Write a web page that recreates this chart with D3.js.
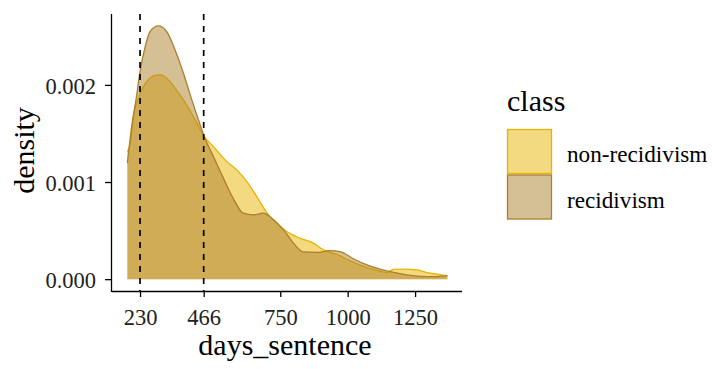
<!DOCTYPE html>
<html>
<head>
<meta charset="utf-8">
<script src="https://cdn.jsdelivr.net/npm/d3@7/dist/d3.min.js"></script>
<style>
  html, body { margin: 0; padding: 0; background: #fff; }
  svg { display: block; }
  text { font-family: "Liberation Serif", "Times New Roman", serif; }
</style>
</head>
<body>
<svg id="chart" width="712" height="369"></svg>
<script>
// ---- data ----
const classes = ["non-recidivism", "recidivism"];
const classColors = ["#E7B400", "#AB7F2B"];

const nonRecidDays = [183, 196, 205, 218, 236, 255, 279, 304, 329, 360, 391, 428, 468, 502, 552, 589, 626, 663, 700, 737, 774, 823, 873, 910, 960, 1009, 1058, 1108, 1146, 1168, 1213, 1257, 1294, 1332, 1372];
const nonRecidDensity = [0.001313, 0.001434, 0.001674, 0.001812, 0.001949, 0.002034, 0.002093, 0.002103, 0.002069, 0.001966, 0.001846, 0.001674, 0.001468, 0.001365, 0.001210, 0.001125, 0.001005, 0.000850, 0.000686, 0.000576, 0.000490, 0.000422, 0.000371, 0.000302, 0.000255, 0.000188, 0.000132, 0.000091, 0.000068, 0.000101, 0.000103, 0.000096, 0.000068, 0.000051, 0.000034];

const recidDays = [183, 199, 215, 230, 249, 267, 298, 329, 360, 391, 422, 453, 468, 502, 539, 576, 613, 650, 687, 724, 762, 799, 836, 885, 935, 972, 1021, 1071, 1120, 1170, 1219, 1269, 1318, 1368];
const recidDensity = [0.001194, 0.001571, 0.001846, 0.002137, 0.002394, 0.002549, 0.002607, 0.002549, 0.002360, 0.002120, 0.001846, 0.001588, 0.001468, 0.001262, 0.001040, 0.000830, 0.000679, 0.000662, 0.000679, 0.000615, 0.000507, 0.000371, 0.000280, 0.000275, 0.000294, 0.000284, 0.000210, 0.000147, 0.000103, 0.000070, 0.000044, 0.000029, 0.000027, 0.000034];

const xTicks = [230, 466, 750, 1000, 1250];
const xTickLabels = ["230", "466", "750", "1000", "1250"];
const yTicks = [0, 0.001, 0.002];
const yTickLabels = ["0.000", "0.001", "0.002"];
const vLines = [230, 466];

const seriesValues = [
  { name: classes[0], days: nonRecidDays, density: nonRecidDensity },
  { name: classes[1], days: recidDays, density: recidDensity }
];

// ---- layout ----
const svg = d3.select("#chart");
const pLeft = 112, pRight = 462, pTop = 14, pBottom = 291;

const x = d3.scaleLinear().domain([126, 1424]).range([pLeft, pRight]);
const y = d3.scaleLinear().domain([-0.000122, 0.002730]).range([pBottom, pTop]);
const color = d3.scaleOrdinal().domain(classes).range(classColors);

// ---- density areas ----
const area = d3.area()
  .x(d => x(d[0])).y0(y(0)).y1(d => y(d[1]))
  .curve(d3.curveMonotoneX);
const line = d3.line()
  .x(d => x(d[0])).y(d => y(d[1]))
  .curve(d3.curveMonotoneX);

seriesValues.forEach(s => {
  const pts = s.days.map((d, i) => [d, s.density[i]]);
  const g = svg.append("g");
  g.append("path").datum(pts)
    .attr("d", area)
    .attr("fill", color(s.name))
    .attr("fill-opacity", 0.5)
    .attr("stroke", "none");
  g.append("path").datum(pts)
    .attr("d", line)
    .attr("fill", "none")
    .attr("stroke", color(s.name))
    .attr("stroke-width", 1.3);
});

// ---- vertical dashed lines ----
svg.selectAll("line.vline").data(vLines).enter().append("line")
  .attr("class", "vline")
  .attr("x1", d => x(d)).attr("x2", d => x(d))
  .attr("y1", pTop).attr("y2", pBottom)
  .attr("stroke", "#000").attr("stroke-width", 1.7)
  .attr("stroke-dasharray", "6,6");

// ---- axes ----
const xAxis = d3.axisBottom(x).tickValues(xTicks)
  .tickFormat((d, i) => xTickLabels[i])
  .tickSize(6).tickPadding(0).tickSizeOuter(0);
const gx = svg.append("g").attr("transform", `translate(0,${pBottom})`).call(xAxis);
gx.select(".domain").attr("d", `M${pLeft},0.5H${pRight}`).attr("stroke", "#000").attr("stroke-width", 1.3);
gx.selectAll(".tick line").attr("stroke", "#000").attr("stroke-width", 1.3);
gx.selectAll(".tick text")
  .attr("y", 34).attr("dy", null)
  .attr("fill", "#222")
  .style("font-family", "Liberation Serif, serif")
  .style("font-size", "22.5px");

const yAxis = d3.axisLeft(y).tickValues(yTicks).tickFormat((d, i) => yTickLabels[i]).tickSize(7).tickPadding(9).tickSizeOuter(0);
const gy = svg.append("g").attr("transform", `translate(${pLeft},0)`).call(yAxis);
gy.select(".domain").attr("d", `M-0.5,${pTop}V${pBottom + 1}`).attr("stroke", "#000").attr("stroke-width", 1.3);
gy.selectAll(".tick line").attr("stroke", "#000").attr("stroke-width", 1.3);
gy.selectAll(".tick text")
  .attr("dy", "0.36em")
  .attr("fill", "#222")
  .style("font-family", "Liberation Serif, serif")
  .style("font-size", "22.5px");

// ---- axis titles ----
svg.append("text")
  .attr("x", (pLeft + pRight) / 2 - 2).attr("y", 355)
  .attr("text-anchor", "middle")
  .style("font-size", "30px").attr("fill", "#000")
  .text("days_sentence");

svg.append("text")
  .attr("transform", `translate(34,${(pTop + pBottom) / 2 - 2}) rotate(-90)`)
  .attr("text-anchor", "middle")
  .style("font-size", "30px").attr("fill", "#000")
  .text("density");

// ---- legend ----
const lg = svg.append("g").attr("transform", "translate(507,0)");
lg.append("text").attr("x", 0).attr("y", 111)
  .style("font-size", "30px").attr("fill", "#000").text("class");

const keyY = [129.5, 175];
classes.forEach((c, i) => {
  lg.append("rect")
    .attr("x", 0.5).attr("y", keyY[i])
    .attr("width", 44).attr("height", 44)
    .attr("fill", color(c)).attr("fill-opacity", 0.5)
    .attr("stroke", color(c)).attr("stroke-width", 1.3);
  lg.append("text")
    .attr("x", 60).attr("y", keyY[i] + 32.5)
    .style("font-size", "23.2px").attr("fill", "#000")
    .text(c);
});
</script>
</body>
</html>
